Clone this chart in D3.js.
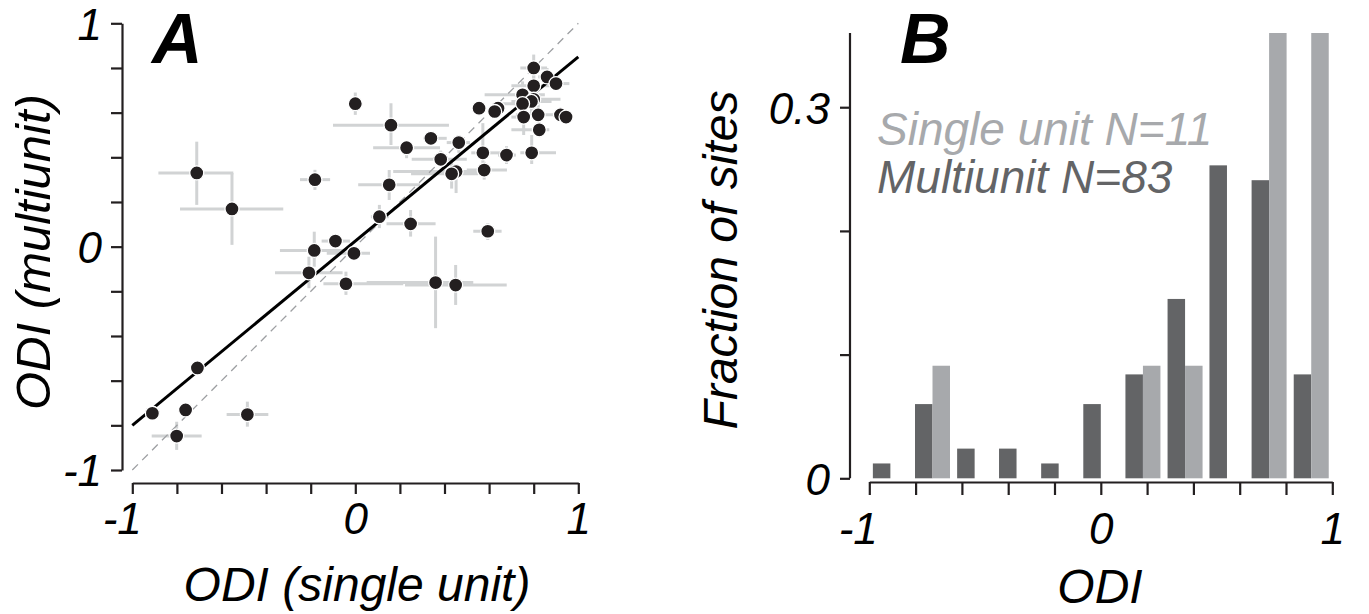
<!DOCTYPE html>
<html>
<head>
<meta charset="utf-8">
<script src="https://cdn.jsdelivr.net/npm/d3@7"></script>
<style>
  body { margin: 0; background: #fff; }
  text { font-family: "Liberation Sans", Arial, sans-serif; font-style: italic; }
</style>
</head>
<body>
<div id="chart"></div>
<script>
// ---- panel A data: ODI per site (single unit on x, multiunit on y) with error ranges
var odiSingle = [0.80, 0.86, 0.90, 0.80, 0.75, 0.80, 0.79, 0.75, 0.00, 0.555, 0.64, 0.625, 0.82, 0.92, 0.945, 0.755,
  0.16, 0.825, 0.339, 0.464, 0.23, 0.572, 0.678, 0.791, 0.383, -0.711, 0.578, 0.452, 0.432, -0.181, 0.152, -0.553,
  0.108, 0.248, 0.594, -0.089, -0.184, -0.006, -0.208, -0.042, 0.36, 0.45, -0.708, -0.91, -0.761, -0.484, -0.801]
var odiMulti = [0.80, 0.76, 0.73, 0.72, 0.68, 0.66, 0.65, 0.64, 0.64, 0.62, 0.62, 0.605, 0.59, 0.59, 0.58, 0.58,
  0.544, 0.523, 0.485, 0.466, 0.443, 0.42, 0.41, 0.42, 0.391, 0.330, 0.343, 0.336, 0.326, 0.300, 0.277, 0.169,
  0.134, 0.102, 0.069, 0.025, -0.017, -0.030, -0.117, -0.166, -0.161, -0.172, -0.543, -0.746, -0.731, -0.752, -0.848]
var singleLo = [0.74, 0.82, 0.86, 0.70, 0.58, 0.72, 0.70, 0.64, -0.01, 0.53, 0.62, 0.60, 0.72, 0.90, 0.93, 0.70,
  -0.10, 0.70, 0.305, 0.41, 0.08, 0.52, 0.64, 0.74, 0.253, -0.883, 0.50, 0.17, 0.25, -0.248, 0.013, -0.786,
  0.07, 0.14, 0.529, -0.151, -0.338, -0.128, -0.36, -0.143, 0.051, 0.223, -0.708, -0.91, -0.761, -0.577, -0.913]
var singleHi = [0.86, 0.90, 0.96, 0.88, 0.85, 0.92, 0.88, 0.82, 0.01, 0.58, 0.66, 0.65, 0.90, 0.94, 0.96, 0.80,
  0.42, 0.87, 0.41, 0.514, 0.38, 0.66, 0.72, 0.90, 0.50, -0.547, 0.68, 0.60, 0.55, -0.113, 0.29, -0.323,
  0.15, 0.36, 0.656, -0.024, -0.054, 0.066, -0.057, 0.215, 0.529, 0.679, -0.708, -0.91, -0.761, -0.39, -0.689]
var multiLo = [0.74, 0.72, 0.70, 0.66, 0.64, 0.60, 0.58, 0.60, 0.59, 0.60, 0.60, 0.60, 0.55, 0.59, 0.58, 0.50,
  0.455, 0.49, 0.47, 0.42, 0.396, 0.358, 0.37, 0.37, 0.36, 0.187, 0.30, 0.24, 0.26, 0.254, 0.209, 0.008,
  0.083, 0.045, 0.03, 0.00, -0.09, -0.06, -0.186, -0.216, -0.365, -0.261, -0.543, -0.746, -0.76, -0.806, -0.91]
var multiHi = [0.86, 0.80, 0.77, 0.79, 0.74, 0.70, 0.70, 0.70, 0.69, 0.64, 0.64, 0.62, 0.66, 0.59, 0.58, 0.62,
  0.642, 0.56, 0.50, 0.50, 0.47, 0.553, 0.45, 0.50, 0.43, 0.470, 0.38, 0.36, 0.38, 0.344, 0.343, 0.330,
  0.187, 0.164, 0.106, 0.05, 0.067, 0.0, -0.045, -0.112, 0.045, -0.082, -0.543, -0.746, -0.70, -0.694, -0.784]
var fitSlope = 0.825, fitIntercept = 0.025
var axisTicksA = [-1, -0.8, -0.6, -0.4, -0.2, 0, 0.2, 0.4, 0.6, 0.8, 1]
var labelTicksA = [-1, 0, 1]

// ---- panel B data: histogram of ODI, fraction of sites per bin
var binCenters = [-0.909, -0.727, -0.545, -0.364, -0.182, 0, 0.182, 0.364, 0.545, 0.727, 0.909]
var multiunitFrac = [0.012, 0.060, 0.024, 0.024, 0.012, 0.060, 0.084, 0.145, 0.253, 0.241, 0.084]
var singleFrac = [0, 0.091, 0, 0, 0, 0, 0.091, 0.091, 0, 0.364, 0.364]
var yTicksB = [0, 0.1, 0.2, 0.3]
var yLabelsB = [0, 0.3]
var xTicksB = [-1, -0.8, -0.6, -0.4, -0.2, 0, 0.2, 0.4, 0.6, 0.8, 1]

var width = 1369, height = 614
var ink = "#231f20", errGray = "#d1d3d4", darkBar = "#636466", lightBar = "#a7a9ac"

var svg = d3.select("#chart").append("svg")
    .attr("width", width).attr("height", height)

function tickFmt(d) { return d === -1 ? "-1" : d3.format("")(d) }

// ================= panel A =================
var xA = d3.scaleLinear().domain([-1, 1]).range([132.3, 578.3])
var yA = d3.scaleLinear().domain([-1, 1]).range([470, 23.3])

var gA = svg.append("g")

// axes
var axA_y = gA.append("g").attr("transform", "translate(122,0)")
    .call(d3.axisLeft(yA).tickValues(axisTicksA).tickSize(11).tickSizeOuter(0)
        .tickFormat(d => labelTicksA.indexOf(d) >= 0 ? tickFmt(d) : ""))
axA_y.selectAll("text").attr("font-size", 44).attr("x", -20).attr("dy", "0.36em")
    .style("font-family", "'Liberation Sans', Arial, sans-serif")

var axA_x = gA.append("g").attr("transform", "translate(0,483)")
    .call(d3.axisBottom(xA).tickValues(axisTicksA).tickSize(11).tickSizeOuter(0)
        .tickFormat(d => labelTicksA.indexOf(d) >= 0 ? tickFmt(d) : ""))
axA_x.selectAll("text").attr("font-size", 44).attr("y", 51).attr("dy", 0)
    .style("font-family", "'Liberation Sans', Arial, sans-serif")
axA_x.selectAll(".tick").filter(d => d === -1).select("text").attr("text-anchor", "end").attr("x", 9)

svg.selectAll(".domain, .tick line").attr("stroke", ink).attr("stroke-width", 2.2)

// error bars
var idx = d3.range(odiSingle.length)
gA.append("g").selectAll("line.h").data(idx).join("line")
    .attr("x1", i => xA(singleLo[i])).attr("x2", i => xA(singleHi[i]))
    .attr("y1", i => yA(odiMulti[i])).attr("y2", i => yA(odiMulti[i]))
    .attr("stroke", errGray).attr("stroke-width", 3)
gA.append("g").selectAll("line.v").data(idx).join("line")
    .attr("x1", i => xA(odiSingle[i])).attr("x2", i => xA(odiSingle[i]))
    .attr("y1", i => yA(multiLo[i])).attr("y2", i => yA(multiHi[i]))
    .attr("stroke", errGray).attr("stroke-width", 3)

// identity line and fit line
gA.append("line")
    .attr("x1", xA(-1)).attr("y1", yA(-1)).attr("x2", xA(1)).attr("y2", yA(1))
    .attr("stroke", "#9d9fa2").attr("stroke-width", 1.3).attr("stroke-dasharray", "8,6")
gA.append("line")
    .attr("x1", xA(-1)).attr("y1", yA(fitIntercept - fitSlope))
    .attr("x2", xA(1)).attr("y2", yA(fitIntercept + fitSlope))
    .attr("stroke", "#000").attr("stroke-width", 3)

// points
gA.append("g").selectAll("circle").data(idx).join("circle")
    .attr("cx", i => xA(odiSingle[i])).attr("cy", i => yA(odiMulti[i]))
    .attr("r", 7).attr("fill", ink).attr("stroke", "#fff").attr("stroke-width", 1.3)

// labels
gA.append("text").attr("x", 152).attr("y", 63).attr("font-size", 70).attr("font-weight", "bold")
    .attr("fill", "#000").text("A")
gA.append("text").attr("x", 357).attr("y", 601).attr("text-anchor", "middle")
    .attr("font-size", 48).attr("fill", "#000").text("ODI (single unit)")
gA.append("text").attr("transform", "translate(50,252) rotate(-90)").attr("text-anchor", "middle")
    .attr("font-size", 49).attr("fill", "#000").text("ODI (multiunit)")

// ================= panel B =================
var xB = d3.scaleLinear().domain([-1, 1]).range([869.3, 1332.3])
var yB = d3.scaleLinear().domain([0, 0.36]).range([478.3, 33]).clamp(true)
var halfW = 0.0756

var gB = svg.append("g")

gB.append("g").selectAll("rect.mu").data(binCenters).join("rect")
    .attr("x", d => xB(d - halfW)).attr("width", d => xB(d) - xB(d - halfW))
    .attr("y", (d, i) => yB(multiunitFrac[i])).attr("height", (d, i) => yB(0) - yB(multiunitFrac[i]))
    .attr("fill", darkBar)
gB.append("g").selectAll("rect.su").data(binCenters).join("rect")
    .attr("x", d => xB(d)).attr("width", d => xB(d + halfW) - xB(d))
    .attr("y", (d, i) => yB(singleFrac[i])).attr("height", (d, i) => yB(0) - yB(singleFrac[i]))
    .attr("fill", lightBar)

var axB_y = gB.append("g").attr("transform", "translate(850,0)")
    .call(d3.axisLeft(yB).tickValues(yTicksB).tickSize(10).tickSizeOuter(0)
        .tickFormat(d => yLabelsB.indexOf(d) >= 0 ? d3.format("")(d) : ""))
axB_y.select(".domain").attr("d", "M0," + yB.range()[1] + "V" + yB(0))
axB_y.selectAll("text").attr("font-size", 44).attr("x", -20).attr("dy", "0.36em")
    .style("font-family", "'Liberation Sans', Arial, sans-serif")

var axB_x = gB.append("g").attr("transform", "translate(0,482)")
    .call(d3.axisBottom(xB).tickValues(xTicksB).tickSize(13).tickSizeOuter(0)
        .tickFormat(d => labelTicksA.indexOf(d) >= 0 ? tickFmt(d) : ""))
axB_x.selectAll("text").attr("font-size", 44).attr("y", 62).attr("dy", 0)
    .style("font-family", "'Liberation Sans', Arial, sans-serif")
axB_x.selectAll(".tick").filter(d => d === -1).select("text").attr("text-anchor", "end").attr("x", 8)

gB.selectAll(".domain, .tick line").attr("stroke", ink).attr("stroke-width", 2.2)

gB.append("text").attr("x", 900).attr("y", 63).attr("font-size", 70).attr("font-weight", "bold")
    .attr("fill", "#000").text("B")
gB.append("text").attr("x", 877).attr("y", 145).attr("font-size", 46).attr("fill", lightBar)
    .text("Single unit N=11")
gB.append("text").attr("x", 877).attr("y", 193).attr("font-size", 46).attr("fill", darkBar)
    .text("Multiunit N=83")
gB.append("text").attr("x", 1100).attr("y", 603).attr("text-anchor", "middle")
    .attr("font-size", 48).attr("fill", "#000").text("ODI")
gB.append("text").attr("transform", "translate(737,260) rotate(-90)").attr("text-anchor", "middle")
    .attr("font-size", 48).attr("fill", "#000").text("Fraction of sites")
</script>
</body>
</html>
